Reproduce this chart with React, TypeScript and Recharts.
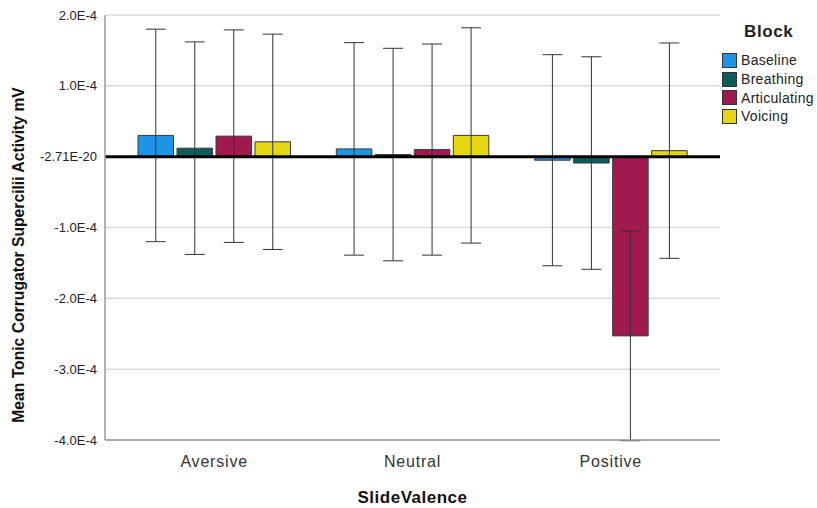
import React from "react";
import {
  BarChart,
  Bar,
  XAxis,
  YAxis,
  CartesianGrid,
  ReferenceLine,
  ErrorBar,
} from "recharts";

// Slide valence categories
const categories = ["Aversive", "Neutral", "Positive"];

// Mean tonic corrugator activity (mV) per block
const baseline = [3.0e-5, 1.1e-5, -0.5e-5];
const breathing = [1.2e-5, 0.3e-5, -0.9e-5];
const articulating = [2.9e-5, 1.0e-5, -25.3e-5];
const voicing = [2.1e-5, 3.0e-5, 0.85e-5];

// Half-width of the error bars (mV)
const baselineErr = [1.5e-4, 1.5e-4, 1.49e-4];
const breathingErr = [1.5e-4, 1.5e-4, 1.5e-4];
const articulatingErr = [1.5e-4, 1.49e-4, 1.48e-4];
const voicingErr = [1.52e-4, 1.52e-4, 1.52e-4];

// Y axis ticks and their printed labels
const yTicks = [2e-4, 1e-4, 0, -1e-4, -2e-4, -3e-4, -4e-4];
const yTickLabels = ["2.0E-4", "1.0E-4", "-2.71E-20", "-1.0E-4", "-2.0E-4", "-3.0E-4", "-4.0E-4"];

const series = [
  { key: "Baseline", values: baseline, errors: baselineErr, color: "#1e94e4" },
  { key: "Breathing", values: breathing, errors: breathingErr, color: "#0d5c5a" },
  { key: "Articulating", values: articulating, errors: articulatingErr, color: "#a0194f" },
  { key: "Voicing", values: voicing, errors: voicingErr, color: "#e4d712" },
];

const data = categories.map((name, i) => {
  const row: Record<string, any> = { name };
  series.forEach((s) => {
    row[s.key] = s.values[i];
    row[s.key + "Err"] = s.errors[i];
  });
  return row;
});

const FONT = '"Liberation Sans", Arial, sans-serif';

const formatY = (v: number) => {
  const idx = yTicks.findIndex((t) => Math.abs(t - v) < 1e-9);
  return idx >= 0 ? yTickLabels[idx] : String(v);
};

// "Block" legend, placed to the right of the plot
const LegendBox = () => (
  <div
    style={{
      position: "absolute",
      left: 722,
      top: 22,
      width: 95,
      fontFamily: FONT,
      color: "#222",
    }}
  >
    <div
      style={{
        fontWeight: "bold",
        fontSize: 17,
        letterSpacing: 0.6,
        marginLeft: 22,
        lineHeight: "20px",
        marginBottom: 9,
      }}
    >
      Block
    </div>
    {series.map((s) => (
      <div
        key={s.key}
        style={{ display: "flex", alignItems: "center", height: 18.7, fontSize: 14, letterSpacing: 0.3 }}
      >
        <span
          style={{
            display: "inline-block",
            width: 13,
            height: 13,
            background: s.color,
            border: "1px solid #333",
            marginRight: 4,
            flex: "none",
          }}
        />
        <span style={{ whiteSpace: "nowrap" }}>{s.key}</span>
      </div>
    ))}
  </div>
);

const YTitle = () => (
  <text
    x={18}
    y={255}
    transform="rotate(-90 18 255)"
    textAnchor="middle"
    dominantBaseline="central"
    fontFamily={FONT}
    fontWeight="bold"
    fontSize={15.7}
    fill="#111"
  >
    Mean Tonic Corrugator Supercilii Activity mV
  </text>
);

export default function App() {
  return (
    <div style={{ position: "absolute", left: 0, top: 0, width: 817, height: 508, background: "#fff" }}>
      <BarChart
        width={817}
        height={508}
        data={data}
        margin={{ top: 15, right: 97, bottom: 0, left: 0 }}
        barSize={35.5}
        barGap={3.5}
      >
        <CartesianGrid horizontal vertical={false} stroke="#dadada" strokeWidth={1.5} />
        <XAxis
          dataKey="name"
          height={68}
          padding={{ left: 10, right: 10 }}
          tickLine={false}
          tickMargin={10}
          axisLine={{ stroke: "#9a9a9a", strokeWidth: 1.5 }}
          tick={{ fontFamily: FONT, fontSize: 16, fill: "#333", letterSpacing: 0.8 }}
          label={{
            value: "SlideValence",
            position: "insideBottom",
            offset: 5,
            style: { fontFamily: FONT, fontSize: 17, fontWeight: "bold", fill: "#111", letterSpacing: 0.5 },
          }}
        />
        <YAxis
          width={105}
          domain={[-4e-4, 2e-4]}
          ticks={yTicks}
          allowDataOverflow
          interval={0}
          tickFormatter={formatY}
          tickLine={false}
          axisLine={{ stroke: "#9a9a9a", strokeWidth: 1.5 }}
          tick={{ fontFamily: FONT, fontSize: 13, fill: "#222" }}
          label={<YTitle />}
        />
        {series.map((s) => (
          <Bar
            key={s.key}
            dataKey={s.key}
            fill={s.color}
            stroke="#3a3a3a"
            strokeWidth={1}
            isAnimationActive={false}
          >
            <ErrorBar dataKey={s.key + "Err"} width={10} stroke="#333" strokeWidth={1} direction="y" />
          </Bar>
        ))}
        <ReferenceLine y={0} stroke="#000" strokeWidth={3} />
      </BarChart>
      <LegendBox />
    </div>
  );
}
